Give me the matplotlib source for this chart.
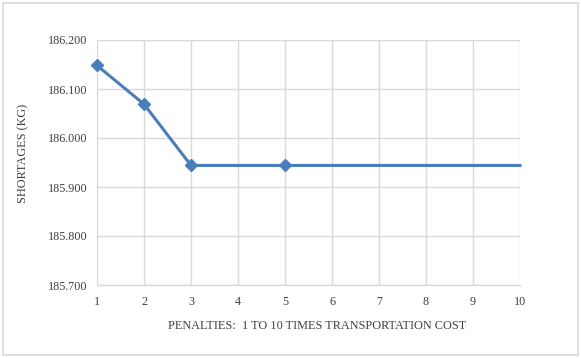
import matplotlib
matplotlib.use("Agg")
import matplotlib.pyplot as plt
from matplotlib.patches import Rectangle

penalties = [1, 2, 3, 5, 10]
shortages = [186.148, 186.069, 185.944, 185.944, 185.944]
marked = [0, 1, 2, 3]
x_ticks = list(range(1, 11))
y_ticks = [185.7, 185.8, 185.9, 186.0, 186.1, 186.2]

plt.rcParams['font.family'] = ['Liberation Serif', 'DejaVu Serif']

fig = plt.figure(figsize=(5.81, 3.58), dpi=100)
ax = fig.add_axes([97/581, 1-285/358, (520-97)/581, (285-40)/358])

ax.plot(penalties, shortages, color='#4a7ebb', lw=2.2, marker='D', markersize=6,
        markevery=marked, solid_joinstyle='round', zorder=3, clip_on=False)

ax.set_xlim(1, 10)
ax.set_ylim(185.7, 186.2)
ax.set_xticks(x_ticks)
ax.set_yticks(y_ticks)
ax.set_yticklabels([f"{v:.3f}" for v in y_ticks])
ax.grid(True, color='#d9d9d9', lw=1.0)
ax.set_axisbelow(True)
for s in ['top', 'right', 'left']:
    ax.spines[s].set_visible(False)
ax.spines['bottom'].set_color('#d9d9d9')
ax.spines['bottom'].set_linewidth(1.0)
ax.tick_params(length=0, labelsize=8.7, colors='#404040')
ax.tick_params(axis='y', pad=7)
ax.tick_params(axis='x', pad=8)

fig.text(23/581, 1-153/358, 'SHORTAGES (KG)', rotation=90, ha='center', va='center',
         fontsize=8.8, color='#404040')
fig.text(317/581, 1-326/358, 'PENALTIES:  1 TO 10 TIMES TRANSPORTATION COST', ha='center',
         va='center', fontsize=8.8, color='#404040')

fig.patches.append(Rectangle((3/581, 3/358), 1-6/581, 1-6/358, transform=fig.transFigure,
                             fill=False, edgecolor='#d9d9d9', lw=1.2))

fig.savefig('out.png', dpi=100)
